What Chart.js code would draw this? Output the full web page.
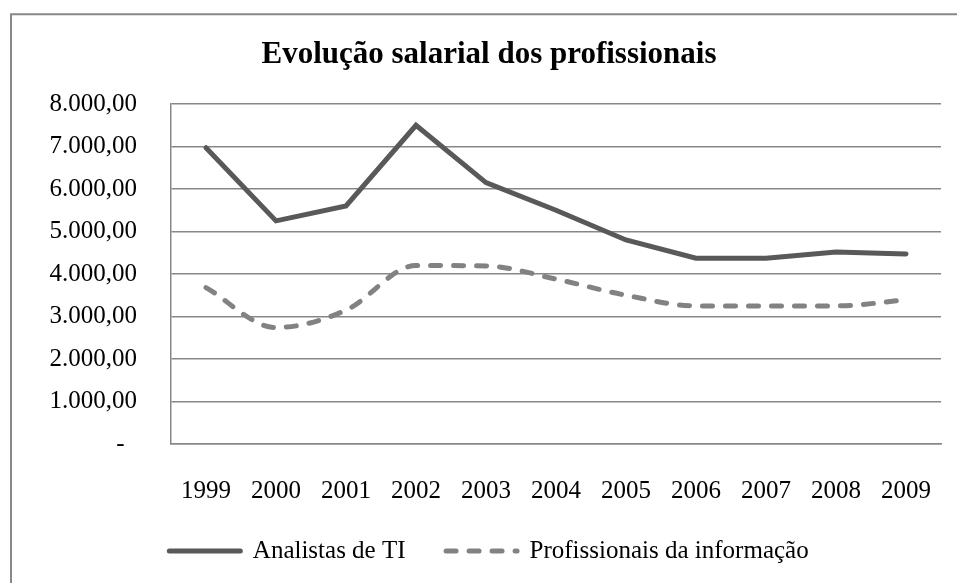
<!DOCTYPE html>
<html lang="pt">
<head>
<meta charset="utf-8">
<title>Evolução salarial dos profissionais</title>
<script src="https://cdn.jsdelivr.net/npm/chart.js@4.4.0/dist/chart.umd.min.js"></script>
<style>
    html, body { margin: 0; padding: 0; background: #fff; }
    canvas { display: block; }
</style>
</head>
<body>
<canvas id="grafico" width="957" height="583"></canvas>
<script>
// Dados
const anos = ['1999', '2000', '2001', '2002', '2003', '2004', '2005', '2006', '2007', '2008', '2009'];
const analistasTI = [6970, 5250, 5600, 7500, 6150, 5500, 4800, 4370, 4370, 4520, 4470];
const profissionaisInfo = [3680, 2740, 3150, 4200, 4190, 3880, 3500, 3250, 3250, 3250, 3390];
const rotulosEixoY = ['-  ', '1.000,00', '2.000,00', '3.000,00', '4.000,00', '5.000,00', '6.000,00', '7.000,00', '8.000,00'];

const fonte = '"Liberation Serif", "Times New Roman", serif';
const cinzaGrade = '#878787';

// Moldura externa (só esquerda e topo ficam visíveis)
const moldura = {
    id: 'moldura',
    afterDraw(chart) {
        const c = chart.ctx;
        c.save();
        c.strokeStyle = '#888888';
        c.lineWidth = 2;
        c.beginPath();
        c.moveTo(11, 583);
        c.lineTo(11, 14.3);
        c.lineTo(957, 14.3);
        c.stroke();
        c.restore();
    }
};

document.addEventListener('DOMContentLoaded', function() {
    const ctx = document.getElementById('grafico');
    const gerarRotulosPadrao = Chart.defaults.plugins.legend.labels.generateLabels;

    new Chart(ctx, {
        type: 'line',
        data: {
            labels: anos,
            datasets: [{
                label: 'Analistas de TI',
                data: analistasTI,
                borderColor: '#595959',
                backgroundColor: '#595959',
                borderWidth: 5,
                borderCapStyle: 'round',
                tension: 0,
                pointRadius: 0,
                fill: false
            }, {
                label: 'Profissionais da informação',
                data: profissionaisInfo,
                borderColor: '#828282',
                backgroundColor: '#828282',
                borderWidth: 5,
                borderDash: [10, 13],
                borderCapStyle: 'round',
                cubicInterpolationMode: 'monotone',
                pointRadius: 0,
                fill: false
            }]
        },
        options: {
            responsive: false,
            animation: false,
            layout: {
                padding: { left: 37, right: 16, top: 0, bottom: 9.5 }
            },
            scales: {
                x: {
                    offset: true,
                    grid: { display: false },
                    border: { display: true, color: cinzaGrade, width: 1.5 },
                    ticks: {
                        color: '#000',
                        padding: 24,
                        maxRotation: 0,
                        font: { family: fonte, size: 25 }
                    },
                    afterFit: function(scale) { scale.height = 54; }
                },
                y: {
                    min: 0,
                    max: 8000,
                    grid: { color: cinzaGrade, lineWidth: 1.5, drawTicks: false },
                    border: { display: true, color: cinzaGrade, width: 1.5 },
                    ticks: {
                        stepSize: 1000,
                        color: '#000',
                        padding: 34,
                        font: { family: fonte, size: 25 },
                        callback: function(value, index) {
                            return rotulosEixoY[index];
                        }
                    },
                    afterFit: function(scale) { scale.width = 134; }
                }
            },
            plugins: {
                title: {
                    display: true,
                    text: 'Evolução salarial dos profissionais',
                    color: '#000',
                    font: { family: fonte, size: 31, weight: 'bold' },
                    padding: { top: 36, bottom: 30.8 }
                },
                legend: {
                    position: 'bottom',
                    labels: {
                        color: '#000',
                        font: { family: fonte, size: 25 },
                        usePointStyle: true,
                        pointStyle: 'line',
                        pointStyleWidth: 71,
                        padding: 40.5,
                        generateLabels: function(chart) {
                            // o estilo de ponto perde o tracejado, então copiamos do dataset
                            return gerarRotulosPadrao(chart).map(function(item) {
                                const ds = chart.data.datasets[item.datasetIndex];
                                item.lineDash = ds.borderDash || [];
                                item.lineWidth = ds.borderWidth;
                                item.lineCap = ds.borderCapStyle;
                                item.strokeStyle = ds.borderColor;
                                return item;
                            });
                        }
                    }
                },
                tooltip: { enabled: false }
            }
        },
        plugins: [moldura]
    });
});
</script>
</body>
</html>
